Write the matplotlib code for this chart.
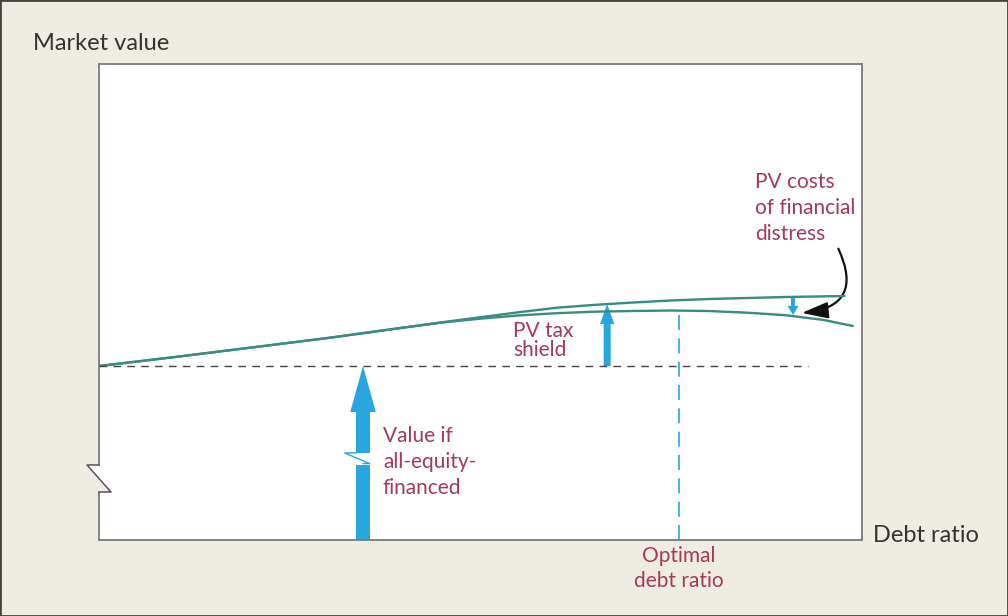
import matplotlib.pyplot as plt
from matplotlib.patches import FancyArrowPatch, Polygon, Rectangle

plt.rcParams['font.family'] = ['Lato', 'DejaVu Sans']

# debt ratio (0..1) and market value (axis fraction)
x_up = [0, 0.1, 0.2, 0.3, 0.4, 0.45, 0.5, 0.55, 0.6, 0.65, 0.7, 0.75, 0.8, 0.85, 0.9, 0.977]
v_up = [0.3655, 0.3845, 0.4044, 0.4244, 0.4464, 0.4575, 0.4680, 0.4785, 0.4880,
        0.4940, 0.4989, 0.5032, 0.5063, 0.5084, 0.5105, 0.5126]
x_low = [0, 0.1, 0.2, 0.3, 0.4, 0.45, 0.5, 0.55, 0.6, 0.65, 0.7, 0.75, 0.8, 0.85, 0.9, 0.95, 0.988]
v_low = [0.3655, 0.3845, 0.4044, 0.4244, 0.4464, 0.4570, 0.4650, 0.4718, 0.4765,
         0.4797, 0.4811, 0.4821, 0.4810, 0.4775, 0.4722, 0.4622, 0.4496]
all_equity = 0.3655
dash_end = 0.929
optimal = 0.76
optimal_val = 0.482
tax_x = 0.666
tax_top = 0.4958
dist_x = 0.9096
dist_top, dist_bot = 0.5105, 0.4727
big_x = 0.346
gap_lo, gap_hi = 0.1576, 0.1828

teal = '#3a8b82'
blue = '#27a6df'
maroon = '#a33a58'
bg = '#efede3'

fig = plt.figure(figsize=(10.08, 6.16), dpi=100, facecolor=bg)
ax = fig.add_axes([99 / 1008, 76 / 616, 763 / 1008, 476 / 616])
ax.set_xlim(0, 1)
ax.set_ylim(0, 1)
ax.set_xticks([])
ax.set_yticks([])
for s in ['top', 'right', 'bottom']:
    ax.spines[s].set_color('#7a7a7a')
    ax.spines[s].set_linewidth(1.3)
ax.spines['left'].set_visible(False)

# left axis with break
zz_top, zz_bot = 0.1576, 0.1008
ax.plot([0, 0], [0, zz_bot], color='#7a7a7a', lw=1.3, clip_on=False)
ax.plot([0, 0], [zz_top, 1], color='#7a7a7a', lw=1.3, clip_on=False)
ax.add_patch(Polygon([(0, zz_bot), (0.0157, zz_bot), (0, 0.127)], closed=True,
                     facecolor=bg, edgecolor='none', clip_on=False, zorder=3))
ax.add_patch(Polygon([(0, zz_top), (-0.0157, zz_top), (0, 0.127)], closed=True,
                     facecolor='white', edgecolor='none', clip_on=False, zorder=3))
ax.plot([0, -0.0157, 0.0157, 0], [zz_top, zz_top, zz_bot, zz_bot],
        color='#555555', lw=1.1, clip_on=False, zorder=4)

# curves
ax.plot(x_up, v_up, color=teal, lw=1.7, solid_capstyle='round')
ax.plot(x_low, v_low, color=teal, lw=1.7, solid_capstyle='round')

# dashed reference lines
ax.plot([0, dash_end], [all_equity, all_equity], color='#444444', lw=1.0,
        linestyle=(0, (5.5, 4.5)))
ax.plot([optimal, optimal], [0, optimal_val], color=blue, lw=1.2,
        linestyle=(0, (9, 5)))

# big arrow: value if all-equity-financed (with break)
ax.add_patch(Rectangle((big_x - 0.0092, 0), 0.0184, gap_lo, facecolor=blue,
                       edgecolor='none'))
ax.arrow(big_x, gap_hi, 0, all_equity - gap_hi, width=0.0184, head_width=0.0335,
         head_length=0.0966, length_includes_head=True, color=blue, lw=0)
ax.plot([big_x - 0.009, big_x - 0.024, big_x + 0.009, big_x],
        [gap_hi, gap_hi, gap_lo + 0.003, gap_lo + 0.003], color=blue, lw=1.0)

# PV tax shield arrow
ax.arrow(tax_x, all_equity, 0, tax_top - all_equity, width=0.0092, head_width=0.0185,
         head_length=0.042, length_includes_head=True, color=blue, lw=0)

# PV costs of financial distress arrow
ax.arrow(dist_x, dist_top, 0, dist_bot - dist_top, width=0.0052, head_width=0.0145,
         head_length=0.019, length_includes_head=True, color=blue, lw=0)

# curved black pointer
ax.add_patch(FancyArrowPatch((0.969, 0.612), (0.921, 0.477),
                             connectionstyle='arc3,rad=-0.7',
                             arrowstyle='-|>,head_length=0.8,head_width=0.25',
                             mutation_scale=20, color='#111111', lw=1.6,
                             shrinkA=0, shrinkB=0))

# texts
fig.text(33 / 1008, 1 - 43 / 616, 'Market value', fontsize=17, color='#333333',
         ha='left', va='center')
fig.text(873 / 1008, 1 - 535 / 616, 'Debt ratio', fontsize=17, color='#333333',
         ha='left', va='center')
ax.text(optimal, -0.012, 'Optimal\ndebt ratio', fontsize=15, color=maroon,
        ha='center', va='top', linespacing=1.35, clip_on=False)
ax.text(0.3722, 0.1639, 'Value if\nall-equity-\nfinanced', fontsize=15, color=maroon,
        ha='left', va='center', linespacing=1.4)
ax.text(0.5426, 0.4191, 'PV tax\nshield', fontsize=15, color=maroon,
        ha='left', va='center', linespacing=0.9)
ax.text(0.9253, 0.6975, 'PV costs\nof financial\ndistress', fontsize=15, color=maroon,
        ha='center', va='center', multialignment='left', linespacing=1.4)

# figure border
fig.add_artist(Rectangle((0, 0), 1, 1, transform=fig.transFigure, fill=False,
                         edgecolor='#444444', lw=2))

fig.savefig('out.png', dpi=100, facecolor=bg)
